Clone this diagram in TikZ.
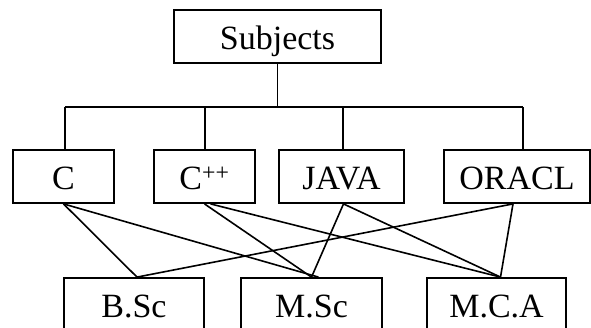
\documentclass[tikz,border=0pt]{standalone}
\usepackage{fontspec}
\setmainfont{Liberation Serif}
\usetikzlibrary{calc}

\begin{document}
\begin{tikzpicture}[x=1pt,y=-1pt,
            box/.style={draw,line width=1.8pt,inner sep=0pt,minimum height=53pt,text height=26.5pt,text depth=0pt,font=\fontsize{34}{40}\selectfont},
            wire/.style={line width=1.6pt,black}]
            \useasboundingbox (0,0) rectangle (591,327);
            \clip (0,0) rectangle (591,327);

            \node[box,minimum width=207pt] (subj) at (277.5,36.5) {Subjects};
            \foreach \n/\x/\w/\t in {c/63.5/101/C,cpp/204.5/101/{C\textsuperscript{++}},java/341.5/125/JAVA,oracl/517/146/ORACL} {
            \node[box,minimum width=\w pt] (\n) at (\x,176.5) {\t};}
            \foreach \n/\x/\w/\t in {bsc/134/140/B.Sc,msc/311.5/141/M.Sc,mca/496.5/139/M.C.A} {
            \node[box,minimum width=\w pt] (\n) at (\x,304.5) {\t};}

            \coordinate (busl) at (65,107);
            \coordinate (busr) at (523,107);
            \draw [wire] (busl) -- (busr);
            \draw [wire] (subj.south) -- (subj.south |- busl);
            \foreach \n/\s in {c/1.5,cpp/0.5,java/1.5,oracl/6} {
            \draw [wire] ([xshift=\s pt]\n.north) -- ([xshift=\s pt]\n.north |- busl);}

            \draw [wire] (c.south) -- ([xshift=3pt]bsc.north);
            \draw [wire] (c.south) -- ([xshift=7pt]msc.north);
            \draw [wire] (cpp.south) -- (msc.north);
            \draw [wire] ([xshift=6pt]cpp.south) -- ([xshift=4pt]mca.north);
            \draw [wire] ([xshift=2pt]java.south) -- (msc.north);
            \draw [wire] ([xshift=2pt]java.south) -- ([xshift=4pt]mca.north);
            \draw [wire] ([xshift=-4pt]oracl.south) -- ([xshift=3pt]bsc.north);
            \draw [wire] ([xshift=-4pt]oracl.south) -- ([xshift=4pt]mca.north);
\end{tikzpicture}
\end{document}
